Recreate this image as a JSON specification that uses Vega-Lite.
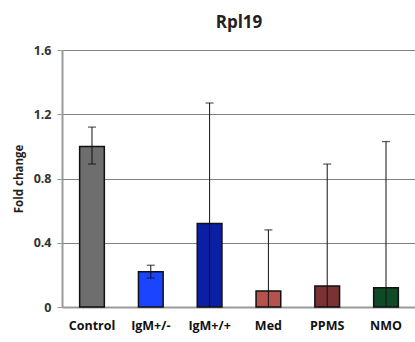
{
  "$schema": "https://vega.github.io/schema/vega-lite/v6.json",
  "autosize": "none",
  "width": 354,
  "height": 257,
  "padding": {"left": 62, "top": 50, "right": 0, "bottom": 35},
  "background": "white",
  "title": {"text": "Rpl19", "fontSize": 17, "font": "Open Sans", "fontWeight": "bold", "color": "#222222", "offset": 12},
  "data": {"values": [
    {"group": "Control", "value": 1.0, "low": 0.89, "high": 1.12, "color": "#6e6e6e"},
    {"group": "IgM+/-", "value": 0.22, "low": 0.18, "high": 0.26, "color": "#1a44ff"},
    {"group": "IgM+/+", "value": 0.52, "low": -0.23, "high": 1.27, "color": "#0a1fa3"},
    {"group": "Med", "value": 0.10, "low": -0.28, "high": 0.48, "color": "#b5524b"},
    {"group": "PPMS", "value": 0.13, "low": -0.63, "high": 0.89, "color": "#7a3232"},
    {"group": "NMO", "value": 0.12, "low": -0.79, "high": 1.03, "color": "#0d4a26"}
  ]},
  "encoding": {
    "x": {"field": "group", "type": "nominal", "sort": null,
      "scale": {"paddingInner": 0.58, "paddingOuter": 0.3},
      "axis": {"title": null, "labelAngle": 0, "labelFont": "Open Sans", "labelFontWeight": "bold", "labelFontSize": 12.5, "labelColor": "#111111", "ticks": false, "domain": true, "domainColor": "#9a9a9a", "domainWidth": 2, "labelPadding": 12}
    }
  },
  "layer": [
    {
      "mark": {"type": "bar", "stroke": "#111111", "strokeWidth": 1.5},
      "encoding": {
        "y": {"field": "value", "type": "quantitative",
          "scale": {"domain": [0, 1.6], "nice": false},
          "axis": {"values": [0, 0.4, 0.8, 1.2, 1.6], "format": "~g", "title": "Fold change", "titleFont": "Open Sans", "titleFontSize": 11.5, "titleFontWeight": "bold", "titleColor": "#222222", "titlePadding": 9,
            "labelFont": "Open Sans", "labelFontWeight": "bold", "labelFontSize": 12.5, "labelColor": "#333333", "labelPadding": 6,
            "grid": true, "gridColor": "#808080", "gridWidth": 1, "domainColor": "#9a9a9a", "domainWidth": 2, "tickColor": "#9a9a9a", "tickSize": 5, "tickWidth": 1}
        },
        "fill": {"field": "color", "type": "nominal", "scale": null}
      }
    },
    {
      "mark": {"type": "rule", "color": "#111111", "strokeWidth": 1, "clip": true},
      "encoding": {
        "y": {"field": "low", "type": "quantitative"},
        "y2": {"field": "high"}
      }
    },
    {
      "mark": {"type": "tick", "color": "#111111", "thickness": 1.2, "size": 8, "orient": "horizontal"},
      "encoding": {"y": {"field": "high", "type": "quantitative"}}
    },
    {
      "transform": [{"filter": "datum.low > 0"}],
      "mark": {"type": "tick", "color": "#111111", "thickness": 1.2, "size": 8, "orient": "horizontal"},
      "encoding": {"y": {"field": "low", "type": "quantitative"}}
    }
  ],
  "config": {"view": {"stroke": null}}
}
